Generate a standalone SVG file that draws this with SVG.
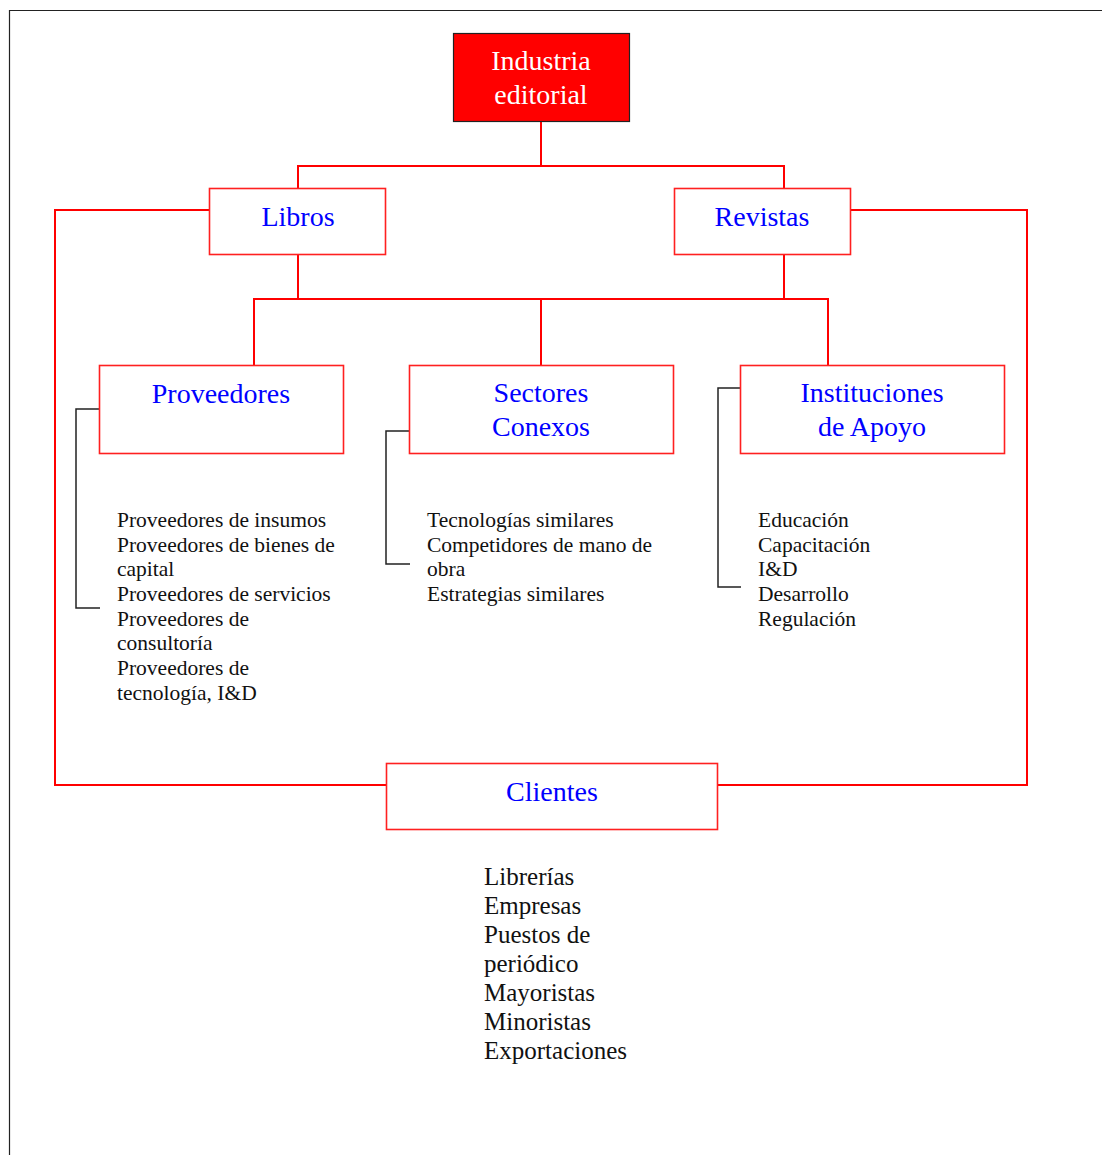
<svg xmlns="http://www.w3.org/2000/svg" width="1102" height="1155" viewBox="0 0 1102 1155">
<style>
.box{fill:#fff;stroke:#ff2020;stroke-width:1.6}
.lbl{font-family:"Liberation Serif","Times New Roman",serif;font-size:28px;fill:#0000ff;text-anchor:middle}
.body{font-family:"Liberation Serif","Times New Roman",serif;font-size:21.5px;fill:#111}
.cli{font-family:"Liberation Serif","Times New Roman",serif;font-size:25px;fill:#111}
.red{fill:none;stroke:#ff0000;stroke-width:2}
.blk{fill:none;stroke:#222;stroke-width:1.5}
</style>
<rect width="1102" height="1155" fill="#fff"/>
<path d="M9.5 1155 V10.5 H1102" fill="none" stroke="#222" stroke-width="1.2"/>
<g id="connectors">
<path class="red" d="M541 122 V166 M298 188 V166 H784 V188"/>
<path class="red" d="M298 255 V299 M784 255 V299 M254 365 V299 H828 V365 M541 299 V365"/>
<path class="red" d="M209 210 H55 V785 H386"/>
<path class="red" d="M850 210 H1027 V785 H718"/>
<path class="blk" d="M99 409 H76 V608 H100"/>
<path class="blk" d="M409 431 H386 V564 H410"/>
<path class="blk" d="M740 388 H718 V587 H741"/>
</g>
<g id="industria">
<rect x="453.5" y="33.5" width="176" height="88" fill="#ff0000" stroke="#222" stroke-width="1.2"/>
<text x="541" y="70" class="lbl" style="fill:#fff">Industria</text>
<text x="541" y="104" class="lbl" style="fill:#fff">editorial</text>
</g>
<g id="libros">
<rect x="209.5" y="188.5" width="176" height="66" class="box"/>
<text x="298" y="226" class="lbl">Libros</text>
</g>
<g id="revistas">
<rect x="674.5" y="188.5" width="176" height="66" class="box"/>
<text x="762" y="226" class="lbl">Revistas</text>
</g>
<g id="proveedores">
<rect x="99.5" y="365.5" width="244" height="88" class="box"/>
<text x="221" y="403" class="lbl">Proveedores</text>
<text class="body" x="117">
<tspan x="117" y="527">Proveedores de insumos</tspan>
<tspan x="117" y="552">Proveedores de bienes de</tspan>
<tspan x="117" y="576">capital</tspan>
<tspan x="117" y="601">Proveedores de servicios</tspan>
<tspan x="117" y="626">Proveedores de</tspan>
<tspan x="117" y="650">consultoría</tspan>
<tspan x="117" y="675">Proveedores de</tspan>
<tspan x="117" y="700">tecnología, I&amp;D</tspan>
</text>
</g>
<g id="sectores">
<rect x="409.5" y="365.5" width="264" height="88" class="box"/>
<text x="541" y="402" class="lbl">Sectores</text>
<text x="541" y="436" class="lbl">Conexos</text>
<text class="body" x="427">
<tspan x="427" y="527">Tecnologías similares</tspan>
<tspan x="427" y="552">Competidores de mano de</tspan>
<tspan x="427" y="576">obra</tspan>
<tspan x="427" y="601">Estrategias similares</tspan>
</text>
</g>
<g id="instituciones">
<rect x="740.5" y="365.5" width="264" height="88" class="box"/>
<text x="872" y="402" class="lbl">Instituciones</text>
<text x="872" y="436" class="lbl">de Apoyo</text>
<text class="body" x="758">
<tspan x="758" y="527">Educación</tspan>
<tspan x="758" y="552">Capacitación</tspan>
<tspan x="758" y="576">I&amp;D</tspan>
<tspan x="758" y="601">Desarrollo</tspan>
<tspan x="758" y="626">Regulación</tspan>
</text>
</g>
<g id="clientes">
<rect x="386.5" y="763.5" width="331" height="66" class="box"/>
<text x="552" y="801" class="lbl">Clientes</text>
<text class="cli" x="484">
<tspan x="484" y="885">Librerías</tspan>
<tspan x="484" y="914">Empresas</tspan>
<tspan x="484" y="943">Puestos de</tspan>
<tspan x="484" y="972">periódico</tspan>
<tspan x="484" y="1001">Mayoristas</tspan>
<tspan x="484" y="1030">Minoristas</tspan>
<tspan x="484" y="1059">Exportaciones</tspan>
</text>
</g>
</svg>
